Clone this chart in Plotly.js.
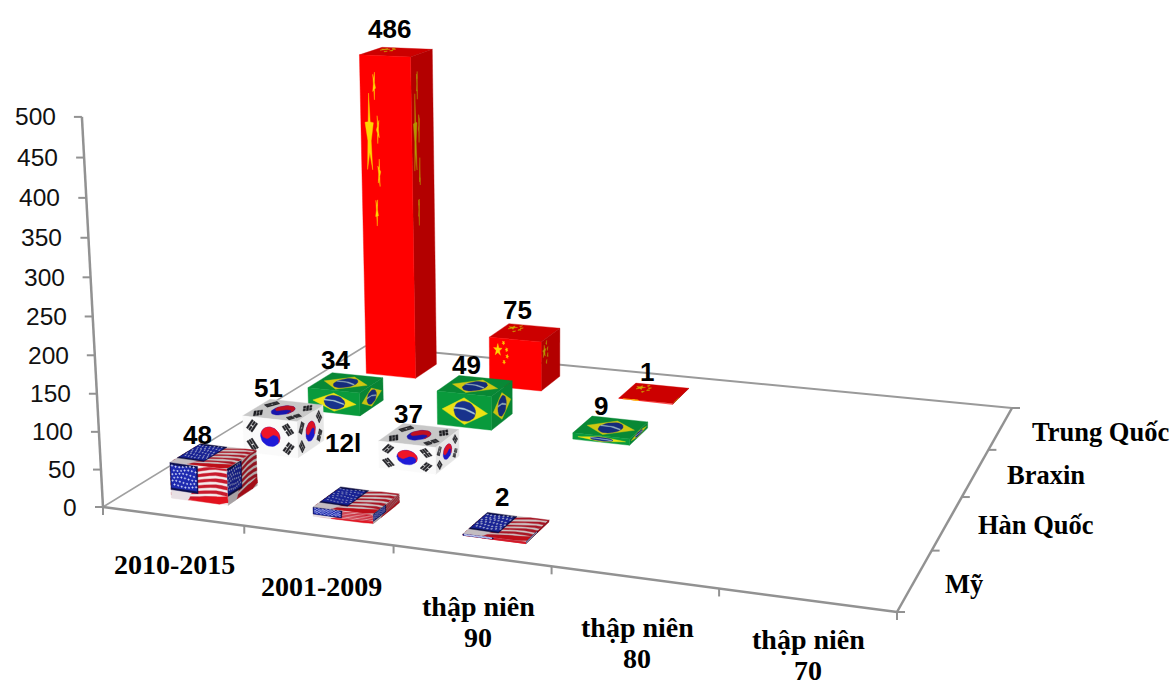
<!DOCTYPE html>
<html>
<head>
<meta charset="utf-8">
<script src="https://cdn.plot.ly/plotly-3.0.1.min.js"></script>
<style>html,body{margin:0;padding:0;background:#fff}</style>
</head>
<body>
<div id="chart" style="width:1173px;height:688px"></div>
<script>
// Chart data
const categories = ["2010-2015", "2001-2009", "thập niên<br>90", "thập niên<br>80", "thập niên<br>70"];
const seriesNames = ["Mỹ", "Hàn Quốc", "Braxin", "Trung Quốc"];
const valuesUS = [48, 12, 2, null, null];
const valuesKorea = [51, 37, null, null, null];
const valuesBrazil = [34, 49, 9, null, null];
const valuesChina = [486, 75, 1, null, null];
const labelsUS = ["48", "12l", "2", "", ""];
const valueTicks = [0, 50, 100, 150, 200, 250, 300, 350, 400, 450, 500];

// Where each value label sits, in page pixels, one row per series
const labelPosUS = [[197, 435], [343, 443], [502, 497]];
const labelPosKorea = [[268, 388], [408, 414]];
const labelPosBrazil = [[335, 360], [466, 365], [601, 406]];
const labelPosChina = [[389, 29], [517, 310], [647, 372]];
const categoryLabelPos = [[174, 564], [321, 586], [478, 606], [637, 627], [808, 639]];
const categoryLineGap = 31;
const seriesLabelPos = [[944, 584], [977, 525], [1006, 475], [1031, 432]];

// Perspective projection of the box: floor corners plus the vertical vanishing point
const floorQuad = [[103, 507], [897, 612], [1012, 408], [365.5, 346]];
const vanish = [546, 8700];
const zK = -9.09e-5;
const nCats = 5, nSeries = 4, barFrac = 0.405, barShiftU = 0.028;

const H = (function () {
  const [p0, p1, p2, p3] = floorQuad;
  const dx1 = p1[0] - p2[0], dx2 = p3[0] - p2[0], sx = p0[0] - p1[0] + p2[0] - p3[0];
  const dy1 = p1[1] - p2[1], dy2 = p3[1] - p2[1], sy = p0[1] - p1[1] + p2[1] - p3[1];
  const det = dx1 * dy2 - dx2 * dy1;
  const g = (sx * dy2 - dx2 * sy) / det, h = (dx1 * sy - sx * dy1) / det;
  return {
    a: p1[0] - p0[0] + g * p1[0], b: p3[0] - p0[0] + h * p3[0], c: p0[0],
    d: p1[1] - p0[1] + g * p1[1], e: p3[1] - p0[1] + h * p3[1], f: p0[1], g, h
  };
})();

// u: category position, v: series position, z: value
function project(u, v, z) {
  const s = u / nCats, t = v / nSeries, k = zK * z;
  const w = H.g * s + H.h * t + 1 + k;
  return [(H.a * s + H.b * t + H.c + k * vanish[0]) / w,
          (H.d * s + H.e * t + H.f + k * vanish[1]) / w];
}

// Flag artwork in face coordinates: p to the right, q downward, both 0..1
const ASPECT = 1.5;
function circle(cx, cy, r, from, to, n) {
  const pts = [], a0 = from === undefined ? 0 : from, a1 = to === undefined ? 2 * Math.PI : to, m = n || 28;
  for (let i = 0; i <= m; i++) {
    const a = a0 + (a1 - a0) * i / m;
    pts.push([cx + r * Math.cos(a) / ASPECT, cy + r * Math.sin(a)]);
  }
  return pts;
}
function star(cx, cy, R, rot) {
  const pts = [];
  for (let i = 0; i < 10; i++) {
    const r = i % 2 ? R * 0.4 : R, a = (rot || 0) + i * Math.PI / 5;
    pts.push([cx + r * Math.sin(a) / ASPECT, cy - r * Math.cos(a)]);
  }
  return pts;
}
function rectIn(cx, cy, hw, hh, ang) {
  const c = Math.cos(ang), s = Math.sin(ang);
  return [[-hw, -hh], [hw, -hh], [hw, hh], [-hw, hh]].map(([x, y]) =>
    [0.5 + (cx + x * c - y * s) / ASPECT, 0.5 + cy + x * s + y * c]);
}

const RED = [255, 0, 0], GOLD = [255, 214, 0];
function flagChina() {
  return [
    { c: RED, polys: [[[0, 0], [1, 0], [1, 1], [0, 1]]] },
    { c: GOLD, polys: [star(0.165, 0.245, 0.13), star(0.275, 0.09, 0.045, 0.5), star(0.335, 0.225, 0.045, 0.9),
                       star(0.345, 0.36, 0.045, 0.2), star(0.285, 0.48, 0.045, 0.6)] }
  ];
}
function flagBrazil() {
  const band = [];
  for (let i = 0; i <= 16; i++) { const p = 0.31 + 0.38 * i / 16; band.push([p, 0.485 - 0.05 * Math.sin((p - 0.31) / 0.38 * Math.PI) + (p - 0.5) * 0.3]); }
  for (let i = 16; i >= 0; i--) { const p = 0.31 + 0.38 * i / 16; band.push([p, 0.525 - 0.05 * Math.sin((p - 0.31) / 0.38 * Math.PI) + (p - 0.5) * 0.3]); }
  return [
    { c: [9, 154, 60], polys: [[[0, 0], [1, 0], [1, 1], [0, 1]]] },
    { c: [236, 226, 20], polys: [[[0.09, 0.52], [0.5, 0.12], [0.93, 0.52], [0.5, 0.92]]] },
    { c: [24, 50, 140], polys: [circle(0.51, 0.52, 0.3)] },
    { c: [170, 200, 215], polys: [band] }
  ];
}
function flagKorea() {
  const r = 0.27, tilt = 0.59;
  const cx = 0.5, cy = 0.5, ox = Math.cos(tilt) / ASPECT, oy = Math.sin(tilt);
  const whole = circle(cx, cy, r, tilt + Math.PI, tilt + 2 * Math.PI, 24);
  const swirl = whole
    .concat(circle(cx + ox * r / 2, cy + oy * r / 2, r / 2, tilt + 2 * Math.PI, tilt + Math.PI, 14))
    .concat(circle(cx - ox * r / 2, cy - oy * r / 2, r / 2, tilt, tilt + Math.PI, 14));
  const bars = [];
  [[-0.5, -0.25, -0.98], [0.5, -0.25, 0.98], [-0.5, 0.27, 0.98], [0.5, 0.27, -0.98]].forEach(([x, y, ang], k) => {
    for (let i = -1; i <= 1; i++) {
      const dx = -Math.sin(ang) * i * 0.07, dy = Math.cos(ang) * i * 0.07;
      if ((k + i + 2) % 2 === 0) {
        bars.push(rectIn(x + dx + Math.cos(ang) * 0.085, y + dy + Math.sin(ang) * 0.085, 0.065, 0.025, ang));
        bars.push(rectIn(x + dx - Math.cos(ang) * 0.085, y + dy - Math.sin(ang) * 0.085, 0.065, 0.025, ang));
      } else {
        bars.push(rectIn(x + dx, y + dy, 0.15, 0.025, ang));
      }
    }
  });
  return [
    { c: [250, 250, 250], polys: [[[0, 0], [1, 0], [1, 1], [0, 1]]] },
    { c: [30, 26, 215], polys: [circle(cx, cy, r)] },
    { c: [240, 20, 40], polys: [swirl] },
    { c: [35, 35, 40], polys: bars }
  ];
}
function flagUS() {
  const red = [], stars = [];
  const wave = (p, q) => Math.min(1, Math.max(0, q + 0.07 * Math.sin(p * 5.2 + 0.4) - 0.16 * (p - 0.45) * (1 - q) + 0.12 * (p - 0.45) * q));
  for (let i = 1; i < 13; i += 2) {
    const top = [], bot = [];
    for (let j = 0; j <= 10; j++) {
      const p = j / 10;
      top.push([p, wave(p, i / 13)]);
      bot.unshift([p, wave(p, (i + 1) / 13)]);
    }
    red.push(top.concat(bot));
  }
  for (let row = 0; row < 6; row++) {
    for (let col = 0; col < 7; col++) {
      const p = 0.035 + col * 0.064 + (row % 2) * 0.03, q = 0.08 + row * 0.11 + 0.025 * Math.sin(col * 0.9 + row);
      stars.push([[p - 0.016, q], [p, q - 0.027], [p + 0.016, q], [p, q + 0.027]]);
    }
  }
  const wedge = [[0.3, 0.99], [0.6, 0.86], [1, 0.76], [1, 0.92], [0.85, 1], [0.42, 1]];
  const canton = [[0, 0], [0.49, 0.02], [0.48, 0.78], [0, 0.76]];
  const cantonInner = [[0.012, 0.07], [0.46, 0.08], [0.46, 0.72], [0.012, 0.7]];
  return [
    { c: [244, 234, 234], polys: [[[0, 0], [1, 0], [1, 1], [0, 1]]] },
    { c: [200, 26, 44], polys: red },
    { c: [232, 224, 228], polys: [[[0, 0.7], [0.38, 0.72], [0.3, 1], [0, 1]]] },
    { c: [226, 18, 30], polys: [wedge] },
    { c: [12, 16, 80], polys: [canton] },
    { c: [30, 42, 176], polys: [cantonInner] },
    { c: [205, 212, 245], polys: stars }
  ];
}

const seriesList = [
  { values: valuesUS, flag: flagUS, shade: { front: 1, side: 0.72, top: 0.84 }, text: labelsUS, pos: labelPosUS },
  { values: valuesKorea, flag: flagKorea, shade: { front: 1, side: 0.92, top: 0.8 }, pos: labelPosKorea },
  { values: valuesBrazil, flag: flagBrazil, shade: { front: 1, side: 0.86, top: 0.88 }, pos: labelPosBrazil },
  { values: valuesChina, flag: flagChina, shade: { front: 1, side: 0.7, top: 0.8 }, pos: labelPosChina }
];

const traces = [];
function pushPolys(color, polys2d) {
  const xs = [], ys = [];
  polys2d.forEach(poly => {
    poly.forEach(pt => { xs.push(pt[0]); ys.push(pt[1]); });
    xs.push(poly[0][0], null); ys.push(poly[0][1], null);
  });
  traces.push({
    type: "scatter", mode: "lines", x: xs, y: ys, fill: "toself", fillcolor: color,
    line: { width: 0.4, color: color }, hoverinfo: "skip", showlegend: false
  });
}
function pushLine(points, width, color) {
  traces.push({
    type: "scatter", mode: "lines", x: points.map(p => p[0]), y: points.map(p => p[1]),
    line: { width: width, color: color || "#929292" }, hoverinfo: "skip", showlegend: false
  });
}

// Paint a flag onto one face; corners are TL, TR, BR, BL in (u, v, z)
function drawFace(corners, flagLayers, shade) {
  const [tl, tr, br, bl] = corners;
  const map = ([p, q]) => {
    const w = [0, 1, 2].map(i => {
      const top = tl[i] + (tr[i] - tl[i]) * p, bottom = bl[i] + (br[i] - bl[i]) * p;
      return top + (bottom - top) * q;
    });
    return project(w[0], w[1], w[2]);
  };
  flagLayers.forEach(layer => {
    const col = "rgb(" + layer.c.map(v => Math.round(v * shade)).join(",") + ")";
    pushPolys(col, layer.polys.map(poly => poly.map(map)));
  });
}

function drawBar(catIdx, serIdx, value, s) {
  const half = barFrac / 2;
  const uc = catIdx + 0.5 + barShiftU;
  const u0 = uc - half, u1 = uc + half;
  const v0 = serIdx + 0.5 - half, v1 = serIdx + 0.5 + half;
  const art = s.flag();
  drawFace([[u0, v1, value], [u1, v1, value], [u1, v0, value], [u0, v0, value]], art, s.shade.top);
  drawFace([[u1, v0, value], [u1, v1, value], [u1, v1, 0], [u1, v0, 0]], art, s.shade.side);
  drawFace([[u0, v0, value], [u1, v0, value], [u1, v0, 0], [u0, v0, 0]], art, s.shade.front);
}

// Floor edges and the value axis
const corner = (u, v, z) => project(u, v, z || 0);
pushLine([corner(0, 0), corner(0, nSeries)], 1.5, "#a0a0a0");
pushLine([corner(0, nSeries), corner(nCats, nSeries)], 2, "#9a9a9a");
pushLine([corner(nCats, nSeries), corner(nCats, 0)], 2.5);
pushLine([corner(nCats, 0), corner(0, 0)], 2.5);
pushLine([corner(0, 0, 0), corner(0, 0, 500)], 2.5);
valueTicks.forEach(t => {
  const p = corner(0, 0, t);
  pushLine([[p[0] - 8, p[1]], p], 2);
});
for (let i = 0; i <= nCats; i++) {
  const p = corner(i, 0);
  pushLine([p, [p[0], p[1] + 8]], 2);
}
for (let j = 0; j <= nSeries; j++) {
  const p = corner(nCats, j);
  pushLine([p, [p[0] + 8, p[1]]], 2);
}

// Bars, painted from the back row forward
for (let j = nSeries - 1; j >= 0; j--) {
  const s = seriesList[j];
  for (let i = nCats - 1; i >= 0; i--) {
    if (s.values[i] !== null) drawBar(i, j, s.values[i], s);
  }
}

const annotations = [];
const note = (x, y, text, font, xanchor) => annotations.push({
  x, y, xref: "x", yref: "y", text, showarrow: false, font, xanchor: xanchor || "center", yanchor: "middle", borderpad: 0
});
const sansBold = { family: "Liberation Sans, Arial, sans-serif", size: 26, color: "#000" };
const sans = { family: "Liberation Sans, Arial, sans-serif", size: 24.5, color: "#111" };
const serifCat = { family: "Liberation Serif, Times New Roman, serif", size: 28, color: "#000" };
const serifSeries = { family: "Liberation Serif, Times New Roman, serif", size: 26.5, color: "#000" };

seriesList.forEach(s => {
  s.values.forEach((val, i) => {
    if (val === null) return;
    const text = s.text ? s.text[i] : String(val);
    note(s.pos[i][0], s.pos[i][1], "<b>" + text + "</b>", sansBold);
  });
});
valueTicks.forEach(t => {
  const p = corner(0, 0, t);
  note(p[0] - 25, p[1], String(t), sans, "right");
});
categories.forEach((c, i) => {
  c.split("<br>").forEach((line, n) =>
    note(categoryLabelPos[i][0], categoryLabelPos[i][1] + n * categoryLineGap, "<b>" + line + "</b>", serifCat));
});
seriesNames.forEach((c, j) => note(seriesLabelPos[j][0], seriesLabelPos[j][1], "<b>" + c + "</b>", serifSeries, "left"));

const layout = {
  width: 1173, height: 688,
  margin: { l: 0, r: 0, t: 0, b: 0 },
  paper_bgcolor: "#fff", plot_bgcolor: "#fff",
  showlegend: false,
  xaxis: { range: [0, 1173], visible: false, fixedrange: true },
  yaxis: { range: [688, 0], visible: false, fixedrange: true },
  annotations
};
Plotly.newPlot("chart", traces, layout, { displayModeBar: false, staticPlot: true });
</script>
</body>
</html>
